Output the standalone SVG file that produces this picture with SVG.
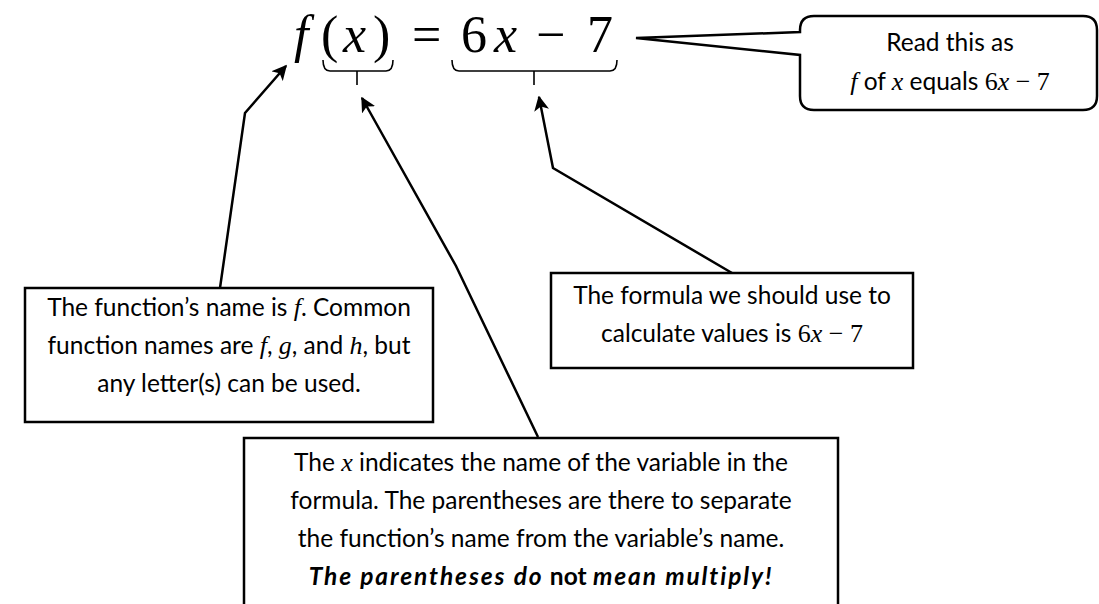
<svg xmlns="http://www.w3.org/2000/svg" width="1099" height="604" viewBox="0 0 1099 604">
<style>
.box{fill:#fff;stroke:#000;stroke-width:2.5}
.t{font-family:Lato,"Open Sans",sans-serif;font-size:24.5px;fill:#000;text-anchor:middle}
.m{font-family:"Liberation Serif",serif;font-style:italic;font-size:26px}
.mu{font-family:"Liberation Serif",serif;font-style:normal;font-size:26px}
.eq{font-family:"Liberation Serif",serif;font-size:52px;fill:#000}
.ln{fill:none;stroke:#000;stroke-width:2.5}
.br{fill:none;stroke:#000;stroke-width:1.6}
.bi{font-weight:bold;font-style:italic;letter-spacing:1.9px}
.b{font-weight:bold}
</style>
<defs>
<marker id="ah" viewBox="0 0 10 10" refX="9" refY="5" markerWidth="6" markerHeight="6" markerUnits="strokeWidth" orient="auto">
<path d="M0,0 L10,5 L0,10 L2.5,5 Z" fill="#000"/>
</marker>
</defs>
<g id="equation">
<text class="eq" y="52"><tspan x="294" font-style="italic">f</tspan><tspan x="321">(</tspan><tspan x="343" font-style="italic">x</tspan><tspan x="373">)</tspan><tspan x="412">=</tspan><tspan x="461">6</tspan><tspan x="494" font-style="italic">x</tspan><tspan x="536">−</tspan><tspan x="587">7</tspan></text>
<path class="br" d="M323,60 Q323,71 330,71 L386,71 Q393,71 393,60 M357,71 L357,85"/>
<path class="br" d="M452,60 Q452,71 459,71 L610,71 Q617,71 617,60 M534,71 L534,85"/>
</g>
<g id="connectors">
<polyline class="ln" points="220,288 245,113 286,66" marker-end="url(#ah)"/>
<polyline class="ln" points="538,437 456,266 362,98" marker-end="url(#ah)"/>
<polyline class="ln" points="732,273 553,168 539,97" marker-end="url(#ah)"/>
</g>
<g id="callout">
<path class="box" d="M814,16 H1083 Q1097,16 1097,30 V96 Q1097,110 1083,110 H814 Q800,110 800,96 V55 L636,38 L800,32 V30 Q800,16 814,16 Z"/>
<text class="t" x="950" y="51">Read this as</text>
<text class="t" x="950" y="90"><tspan class="m">f</tspan> of <tspan class="m">x</tspan> equals <tspan class="mu">6</tspan><tspan class="m">x</tspan><tspan class="mu"> − 7</tspan></text>
</g>
<g id="name-box">
<rect class="box" x="25" y="288" width="408" height="134"/>
<text class="t" x="229" y="316">The function’s name is <tspan class="m">f</tspan>. Common</text>
<text class="t" x="229" y="354">function names are <tspan class="m">f</tspan>, <tspan class="m">g</tspan>, and <tspan class="m">h</tspan>, but</text>
<text class="t" x="229" y="392">any letter(s) can be used.</text>
</g>
<g id="formula-box">
<rect class="box" x="551" y="273" width="362" height="95"/>
<text class="t" x="732" y="304">The formula we should use to</text>
<text class="t" x="732" y="342">calculate values is <tspan class="mu">6</tspan><tspan class="m">x</tspan><tspan class="mu"> − 7</tspan></text>
</g>
<g id="variable-box">
<rect class="box" x="244" y="438" width="594" height="180"/>
<text class="t" x="541" y="471">The <tspan class="m">x</tspan> indicates the name of the variable in the</text>
<text class="t" x="541" y="509">formula. The parentheses are there to separate</text>
<text class="t" x="541" y="547">the function’s name from the variable’s name.</text>
<text class="t" x="541" y="585"><tspan class="bi">The parentheses do</tspan> <tspan class="b">not</tspan> <tspan class="bi">mean multiply!</tspan></text>
</g>
</svg>
